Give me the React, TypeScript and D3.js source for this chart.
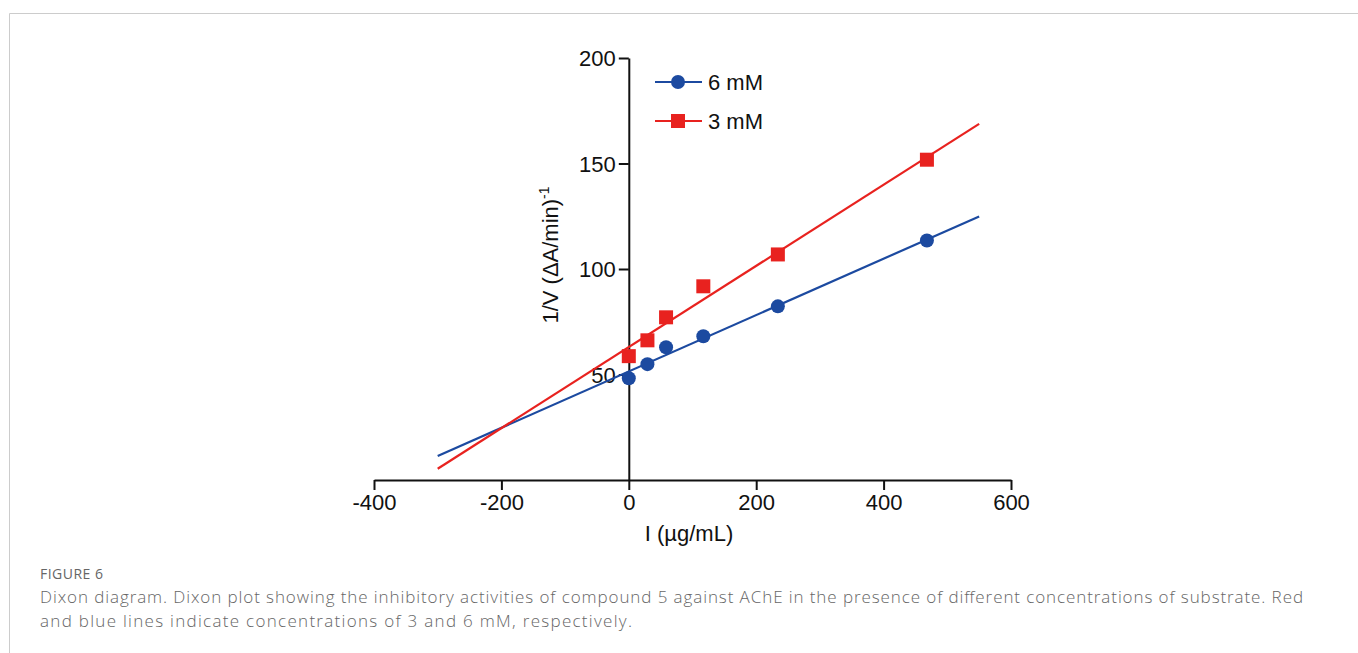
import React, { useEffect, useRef } from 'react';
import * as d3 from 'd3';

// concentrations of inhibitor (µg/mL)
const inhibitor = [0, 29.25, 58.5, 117, 234, 468];
const blue6mM = [48.2, 54.9, 62.9, 68.1, 82.3, 113.5];
const red3mM = [58.7, 66.2, 77.1, 91.8, 106.9, 151.8];
const fitRange = [-300, 550];

const xTicks = [-400, -200, 0, 200, 400, 600];
const yTicks = [50, 100, 150, 200];

const BLUE = '#1c4aa0';
const RED = '#e8221f';
const FONT = '"Liberation Sans", Arial, sans-serif';

const W = 1358;
const H = 653;

function fit(xs: number[], ys: number[]) {
  const mx = d3.mean(xs) as number;
  const my = d3.mean(ys) as number;
  let num = 0, den = 0;
  xs.forEach((x, i) => { num += (x - mx) * (ys[i] - my); den += (x - mx) * (x - mx); });
  const slope = num / den;
  const intercept = my - slope * mx;
  return (x: number) => intercept + slope * x;
}

function DixonPlot() {
  const ref = useRef<SVGSVGElement>(null);

  useEffect(() => {
    const svg = d3.select(ref.current);
    svg.selectAll('*').remove();

    // frame
    svg.append('path')
      .attr('d', `M9.5,${H} V13.5 H${W}`)
      .attr('fill', 'none')
      .attr('stroke', '#cccccc')
      .attr('stroke-width', 1);

    const x = d3.scaleLinear().domain([-400, 600]).range([374, 1011]);
    const y = d3.scaleLinear().domain([0, 200]).range([480, 58]);

    const xAxis = svg.append('g')
      .attr('transform', `translate(0,${y(0)})`)
      .call(d3.axisBottom(x).tickValues(xTicks).tickSize(10).tickSizeOuter(0).tickPadding(4).tickFormat(d => String(d)));
    const yAxis = svg.append('g')
      .attr('transform', `translate(${x(0)},0)`)
      .call(d3.axisLeft(y).tickValues(yTicks).tickSize(10).tickSizeOuter(0).tickPadding(3).tickFormat(d => String(d)));

    [xAxis, yAxis].forEach(g => {
      g.select('.domain').attr('stroke', '#111').attr('stroke-width', 2);
      g.selectAll('.tick line').attr('stroke', '#111').attr('stroke-width', 2);
      g.selectAll('.tick text')
        .attr('fill', '#111')
        .style('font-family', FONT)
        .style('font-size', '22px');
    });
    yAxis.selectAll('.tick text').attr('dy', '0.36em');

    // axis titles
    svg.append('text')
      .attr('x', 689).attr('y', 541)
      .attr('text-anchor', 'middle')
      .style('font-family', FONT).style('font-size', '22px')
      .attr('fill', '#111')
      .text('I (µg/mL)');

    const yt = svg.append('text')
      .attr('transform', 'translate(558,255) rotate(-90)')
      .attr('text-anchor', 'middle')
      .style('font-family', FONT).style('font-size', '22px')
      .attr('fill', '#111');
    yt.append('tspan').text('1/V (ΔA/min)');
    yt.append('tspan').attr('dy', -9).style('font-size', '14px').text('-1');

    const series = [
      { name: '6 mM', values: blue6mM, color: BLUE, shape: 'circle' },
      { name: '3 mM', values: red3mM, color: RED, shape: 'square' },
    ];

    series.forEach(s => {
      const f = fit(inhibitor, s.values);
      svg.append('path')
        .datum(fitRange.map(v => [v, f(v)]))
        .attr('fill', 'none')
        .attr('stroke', s.color)
        .attr('stroke-width', 2.2)
        .attr('d', d3.line<number[]>().x(d => x(d[0])).y(d => y(d[1])) as any);

      const pts = inhibitor.map((v, i) => [v, s.values[i]]);
      if (s.shape === 'circle') {
        svg.append('g').selectAll('circle').data(pts).join('circle')
          .attr('cx', d => x(d[0])).attr('cy', d => y(d[1]))
          .attr('r', 7).attr('fill', s.color);
      } else {
        svg.append('g').selectAll('rect').data(pts).join('rect')
          .attr('x', d => x(d[0]) - 7).attr('y', d => y(d[1]) - 7)
          .attr('width', 14).attr('height', 14).attr('fill', s.color);
      }
    });

    // legend
    series.forEach((s, i) => {
      const ly = 82 + i * 39;
      const g = svg.append('g');
      g.append('line').attr('x1', 655).attr('x2', 702).attr('y1', ly).attr('y2', ly)
        .attr('stroke', s.color).attr('stroke-width', 2.2);
      if (s.shape === 'circle') {
        g.append('circle').attr('cx', 678).attr('cy', ly).attr('r', 7).attr('fill', s.color);
      } else {
        g.append('rect').attr('x', 671).attr('y', ly - 7).attr('width', 14).attr('height', 14).attr('fill', s.color);
      }
      g.append('text').attr('x', 708).attr('y', ly).attr('dy', '0.36em')
        .style('font-family', FONT).style('font-size', '22px').attr('fill', '#111')
        .text(s.name);
    });

    // caption
    const capFont = '"Open Sans", "Noto Sans", sans-serif';
    svg.append('text').attr('x', 40).attr('y', 579)
      .style('font-family', capFont).style('font-size', '14px').attr('fill', '#666')
      .attr('textLength', 63).attr('lengthAdjust', 'spacing')
      .text('FIGURE 6');
    svg.append('text').attr('x', 40).attr('y', 603)
      .style('font-family', capFont).style('font-size', '17px').style('font-weight', 300).attr('fill', '#666')
      .attr('textLength', 1263).attr('lengthAdjust', 'spacing')
      .text('Dixon diagram. Dixon plot showing the inhibitory activities of compound 5 against AChE in the presence of different concentrations of substrate. Red');
    svg.append('text').attr('x', 40).attr('y', 627)
      .style('font-family', capFont).style('font-size', '17px').style('font-weight', 300).attr('fill', '#666')
      .attr('textLength', 592).attr('lengthAdjust', 'spacing')
      .text('and blue lines indicate concentrations of 3 and 6 mM, respectively.');
  }, []);

  return <svg ref={ref} width={W} height={H} style={{ position: 'absolute', left: 0, top: 0, background: '#fff' }} />;
}

export default function App() {
  return <DixonPlot />;
}
